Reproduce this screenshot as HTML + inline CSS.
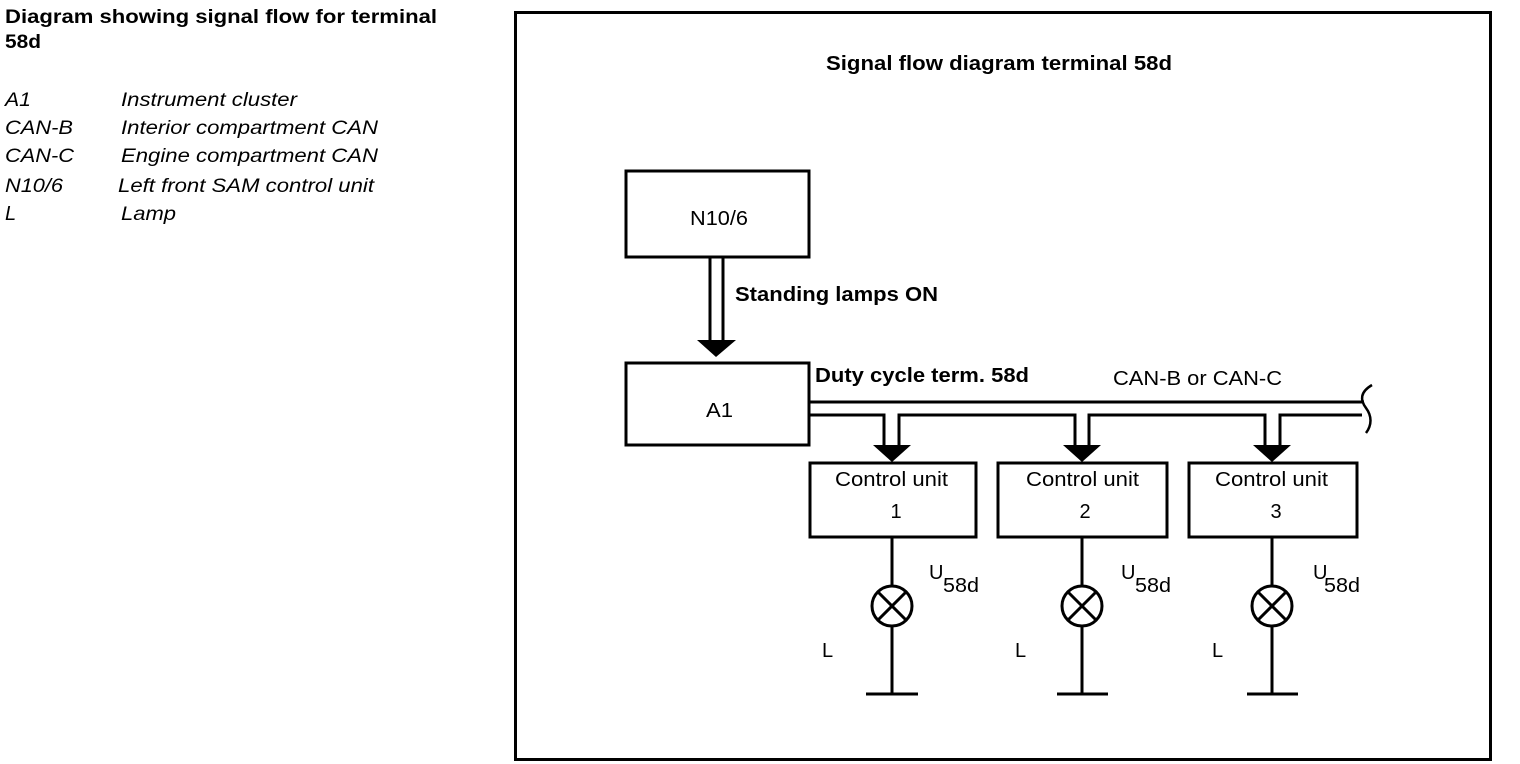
<!DOCTYPE html>
<html><head><meta charset="utf-8"><style>
body{margin:0;background:#fff;width:1520px;height:764px;overflow:hidden}
svg{display:block}
text{font-family:"Liberation Sans",Arial,sans-serif;fill:#000}
.b{font-weight:bold}
.i{font-style:italic}
</style></head><body>
<svg width="1520" height="764" viewBox="0 0 1520 764" xmlns="http://www.w3.org/2000/svg">
<g font-size="19">
<text x="5" y="23" class="b" textLength="432" lengthAdjust="spacingAndGlyphs">Diagram showing signal flow for terminal</text>
<text x="5" y="48" class="b" textLength="36" lengthAdjust="spacingAndGlyphs">58d</text>
<g class="i">
<text x="5" y="106" textLength="26" lengthAdjust="spacingAndGlyphs">A1</text><text x="121" y="106" textLength="176" lengthAdjust="spacingAndGlyphs">Instrument cluster</text>
<text x="5" y="134" textLength="68" lengthAdjust="spacingAndGlyphs">CAN-B</text><text x="121" y="134" textLength="257" lengthAdjust="spacingAndGlyphs">Interior compartment CAN</text>
<text x="5" y="162" textLength="69" lengthAdjust="spacingAndGlyphs">CAN-C</text><text x="121" y="162" textLength="257" lengthAdjust="spacingAndGlyphs">Engine compartment CAN</text>
<text x="5" y="192" textLength="58" lengthAdjust="spacingAndGlyphs">N10/6</text><text x="118" y="192" textLength="256" lengthAdjust="spacingAndGlyphs">Left front SAM control unit</text>
<text x="5" y="220" font-size="20">L</text><text x="121" y="220" textLength="55" lengthAdjust="spacingAndGlyphs">Lamp</text>
</g>
</g>
<g fill="none" stroke="#000">
<rect x="515.5" y="12.5" width="975" height="747" stroke-width="3"/>
<rect x="626" y="171" width="183" height="86" stroke-width="3"/>
<rect x="626" y="363" width="183" height="82" stroke-width="3"/>
<rect x="810" y="463" width="166" height="74" stroke-width="3"/>
<rect x="998" y="463" width="169" height="74" stroke-width="3"/>
<rect x="1189" y="463" width="168" height="74" stroke-width="3"/>
<g stroke-width="3">
<line x1="710" y1="257" x2="710" y2="340"/>
<line x1="723" y1="257" x2="723" y2="340"/>
<line x1="809" y1="402" x2="1364" y2="402"/>
<polyline points="809,415 884,415 884,446"/>
<polyline points="899,446 899,415 1075,415 1075,446"/>
<polyline points="1089,446 1089,415 1265,415 1265,446"/>
<polyline points="1280,446 1280,415 1362,415"/>
<path d="M1372,385 C1360,392 1360,400 1366,408 C1372,416 1372,425 1366,433" stroke-width="2.5"/>
</g>
<g stroke-width="3">
<line x1="892" y1="537" x2="892" y2="694"/>
<line x1="1082" y1="537" x2="1082" y2="694"/>
<line x1="1272" y1="537" x2="1272" y2="694"/>
<line x1="866" y1="694" x2="918" y2="694"/>
<line x1="1057" y1="694" x2="1108" y2="694"/>
<line x1="1247" y1="694" x2="1298" y2="694"/>
</g>
<g stroke-width="3" fill="#fff">
<circle cx="892" cy="606" r="20"/>
<circle cx="1082" cy="606" r="20"/>
<circle cx="1272" cy="606" r="20"/>
</g>
<g stroke-width="3">
<path d="M878,592 L906,620 M906,592 L878,620"/>
<path d="M1068,592 L1096,620 M1096,592 L1068,620"/>
<path d="M1258,592 L1286,620 M1286,592 L1258,620"/>
</g>
</g>
<g fill="#000">
<polygon points="697,340 736,340 716,357"/>
<polygon points="873,445 911,445 892,462"/>
<polygon points="1063,445 1101,445 1082,462"/>
<polygon points="1253,445 1291,445 1272,462"/>
</g>
<g font-size="20">
<text x="826" y="70" class="b" textLength="346" lengthAdjust="spacingAndGlyphs">Signal flow diagram terminal 58d</text>
<text x="690" y="225" textLength="58" lengthAdjust="spacingAndGlyphs">N10/6</text>
<text x="735" y="301" class="b" textLength="203" lengthAdjust="spacingAndGlyphs">Standing lamps ON</text>
<text x="706" y="417" textLength="27" lengthAdjust="spacingAndGlyphs">A1</text>
<text x="815" y="382" class="b" textLength="214" lengthAdjust="spacingAndGlyphs">Duty cycle term. 58d</text>
<text x="1113" y="385" textLength="169" lengthAdjust="spacingAndGlyphs">CAN-B or CAN-C</text>
<text x="835" y="486" textLength="113" lengthAdjust="spacingAndGlyphs">Control unit</text>
<text x="896" y="518" text-anchor="middle">1</text>
<text x="1026" y="486" textLength="113" lengthAdjust="spacingAndGlyphs">Control unit</text>
<text x="1085" y="518" text-anchor="middle">2</text>
<text x="1215" y="486" textLength="113" lengthAdjust="spacingAndGlyphs">Control unit</text>
<text x="1276" y="518" text-anchor="middle">3</text>
<text x="929" y="579">U</text><text x="943" y="592" textLength="36" lengthAdjust="spacingAndGlyphs">58d</text>
<text x="1121" y="579">U</text><text x="1135" y="592" textLength="36" lengthAdjust="spacingAndGlyphs">58d</text>
<text x="1313" y="579">U</text><text x="1324" y="592" textLength="36" lengthAdjust="spacingAndGlyphs">58d</text>
<text x="822" y="657">L</text>
<text x="1015" y="657">L</text>
<text x="1212" y="657">L</text>
</g>
</svg>
</body></html>
